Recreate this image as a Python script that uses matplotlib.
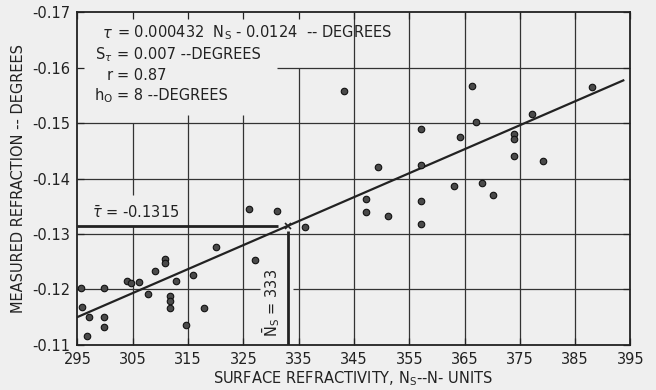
import numpy as np
import matplotlib
matplotlib.use("Agg")
import matplotlib.pyplot as plt

# surface refractivity (N-units) and measured refraction (degrees)
ns = [295.6, 295.9, 297.0, 296.8, 299.8, 299.8, 299.8, 303.9, 304.7, 306.1,
      307.8, 309.0, 310.8, 310.8, 311.7, 311.7, 311.7, 312.9, 315.9, 314.7,
      317.9, 320.0, 327.1, 326.0, 331.1, 336.1, 343.2, 347.2, 347.2, 349.3,
      351.2, 357.1, 357.1, 357.1, 357.1, 363.0, 364.2, 366.3, 367.1, 368.1,
      370.1, 374.0, 374.0, 374.0, 377.2, 379.1, 388.0]
tau = [-0.1203, -0.1169, -0.1150, -0.1116, -0.1203, -0.1151, -0.1132, -0.1215, -0.1211, -0.1214,
       -0.1192, -0.1234, -0.1255, -0.1247, -0.1188, -0.1180, -0.1167, -0.1216, -0.1227, -0.1136,
       -0.1167, -0.1276, -0.1253, -0.1345, -0.1341, -0.1313, -0.1558, -0.1363, -0.1340, -0.1421,
       -0.1332, -0.1489, -0.1424, -0.1360, -0.1318, -0.1387, -0.1475, -0.1567, -0.1501, -0.1391,
       -0.1370, -0.1481, -0.1471, -0.1441, -0.1516, -0.1432, -0.1564]

# regression tau = -(slope * Ns + icpt)
slope = 0.000432
icpt = -0.0124
fit_range = [295.0, 393.7]
tau_bar = -0.1315
ns_bar = 333

xticks = list(range(295, 396, 10))
yticks = [-0.17, -0.16, -0.15, -0.14, -0.13, -0.12, -0.11]
ylabels = ["-0.17", "-0.16", "-0.15", "-0.14", "-0.13", "-0.12", "-0.11"]

bg = "#efefef"
ink = "#222222"

fig = plt.figure(figsize=(6.56, 3.9), dpi=100, facecolor=bg)
ax = fig.add_axes([0.1181, 0.1154, 0.8430, 0.8538], facecolor=bg)
ax.set_xlim(295, 395)
ax.set_ylim(-0.11, -0.17)

# grid drawn by hand so it can stop short of the lettering
gl = dict(color="#333333", linewidth=0.9, zorder=1)
ax.vlines(305, -0.15, -0.137, **gl)
ax.vlines(305, tau_bar, -0.11, **gl)
ax.vlines([315, 325], -0.1515, -0.11, **gl)
ax.vlines(335, -0.16, -0.11, **gl)
ax.vlines(xticks[5:-1], -0.17, -0.11, **gl)
ax.hlines(-0.16, 331.0, 395, **gl)
ax.hlines([-0.15, -0.14, -0.13], 295, 395, **gl)
ax.hlines(-0.12, 295, 328.0, **gl)
ax.hlines(-0.12, 334.0, 395, **gl)

for s in ax.spines.values():
    s.set_linewidth(1.3)
    s.set_color(ink)

ax.set_xticks(xticks)
ax.set_yticks(yticks)
ax.set_yticklabels(ylabels)
ax.tick_params(direction="in", top=True, right=True, length=5, width=0.9,
               colors=ink, labelsize=10.5, pad=5)

# observations
ax.scatter(ns, tau, s=22, facecolor="#4a4a4a", edgecolor="#111111",
           linewidth=0.8, zorder=4)

# fitted line
fx = np.array(fit_range)
ax.plot(fx, -(slope * fx + icpt), color=ink, linewidth=1.6, zorder=3)

# mean values
ax.hlines(tau_bar, 295, 331.3, color=ink, linewidth=2.0, zorder=3)
ax.vlines(ns_bar, -0.1305, -0.11, color=ink, linewidth=2.0, zorder=3)
ax.plot([ns_bar], [tau_bar], marker="x", color=ink, markersize=5,
        markeredgewidth=1.2, zorder=4)

tk = dict(fontsize=10.5, color=ink, va="center")
ax.text(301.4, -0.1662, r"$\tau$", ha="right", **tk)
ax.text(302.1, -0.1662, r"= 0.000432  N$_{\rm S}$ - 0.0124  -- DEGREES", ha="left", **tk)
ax.text(301.4, -0.1623, r"S$_{\tau}$", ha="right", **tk)
ax.text(302.1, -0.1623, "= 0.007 --DEGREES", ha="left", **tk)
ax.text(301.4, -0.1586, "r", ha="right", **tk)
ax.text(302.1, -0.1586, "= 0.87", ha="left", **tk)
ax.text(301.4, -0.1549, r"h$_{\rm O}$", ha="right", **tk)
ax.text(302.1, -0.1549, "= 8 --DEGREES", ha="left", **tk)

ax.text(297.6, -0.1338, r"$\bar{\tau}$ = -0.1315", ha="left", **tk)
ax.text(330.0, -0.1176, r"$\bar{\rm N}_{\rm S}$ = 333", ha="center",
        rotation=90, **tk)

ax.set_xlabel(r"SURFACE REFRACTIVITY, N$_{\rm S}$--N- UNITS", fontsize=10.5, color=ink)
ax.set_ylabel("MEASURED REFRACTION -- DEGREES", fontsize=10.5, color=ink)
ax.xaxis.set_label_coords(0.499, -0.074)
ax.yaxis.set_label_coords(-0.093, 0.5)

fig.savefig("out.png", dpi=100, facecolor=bg)
